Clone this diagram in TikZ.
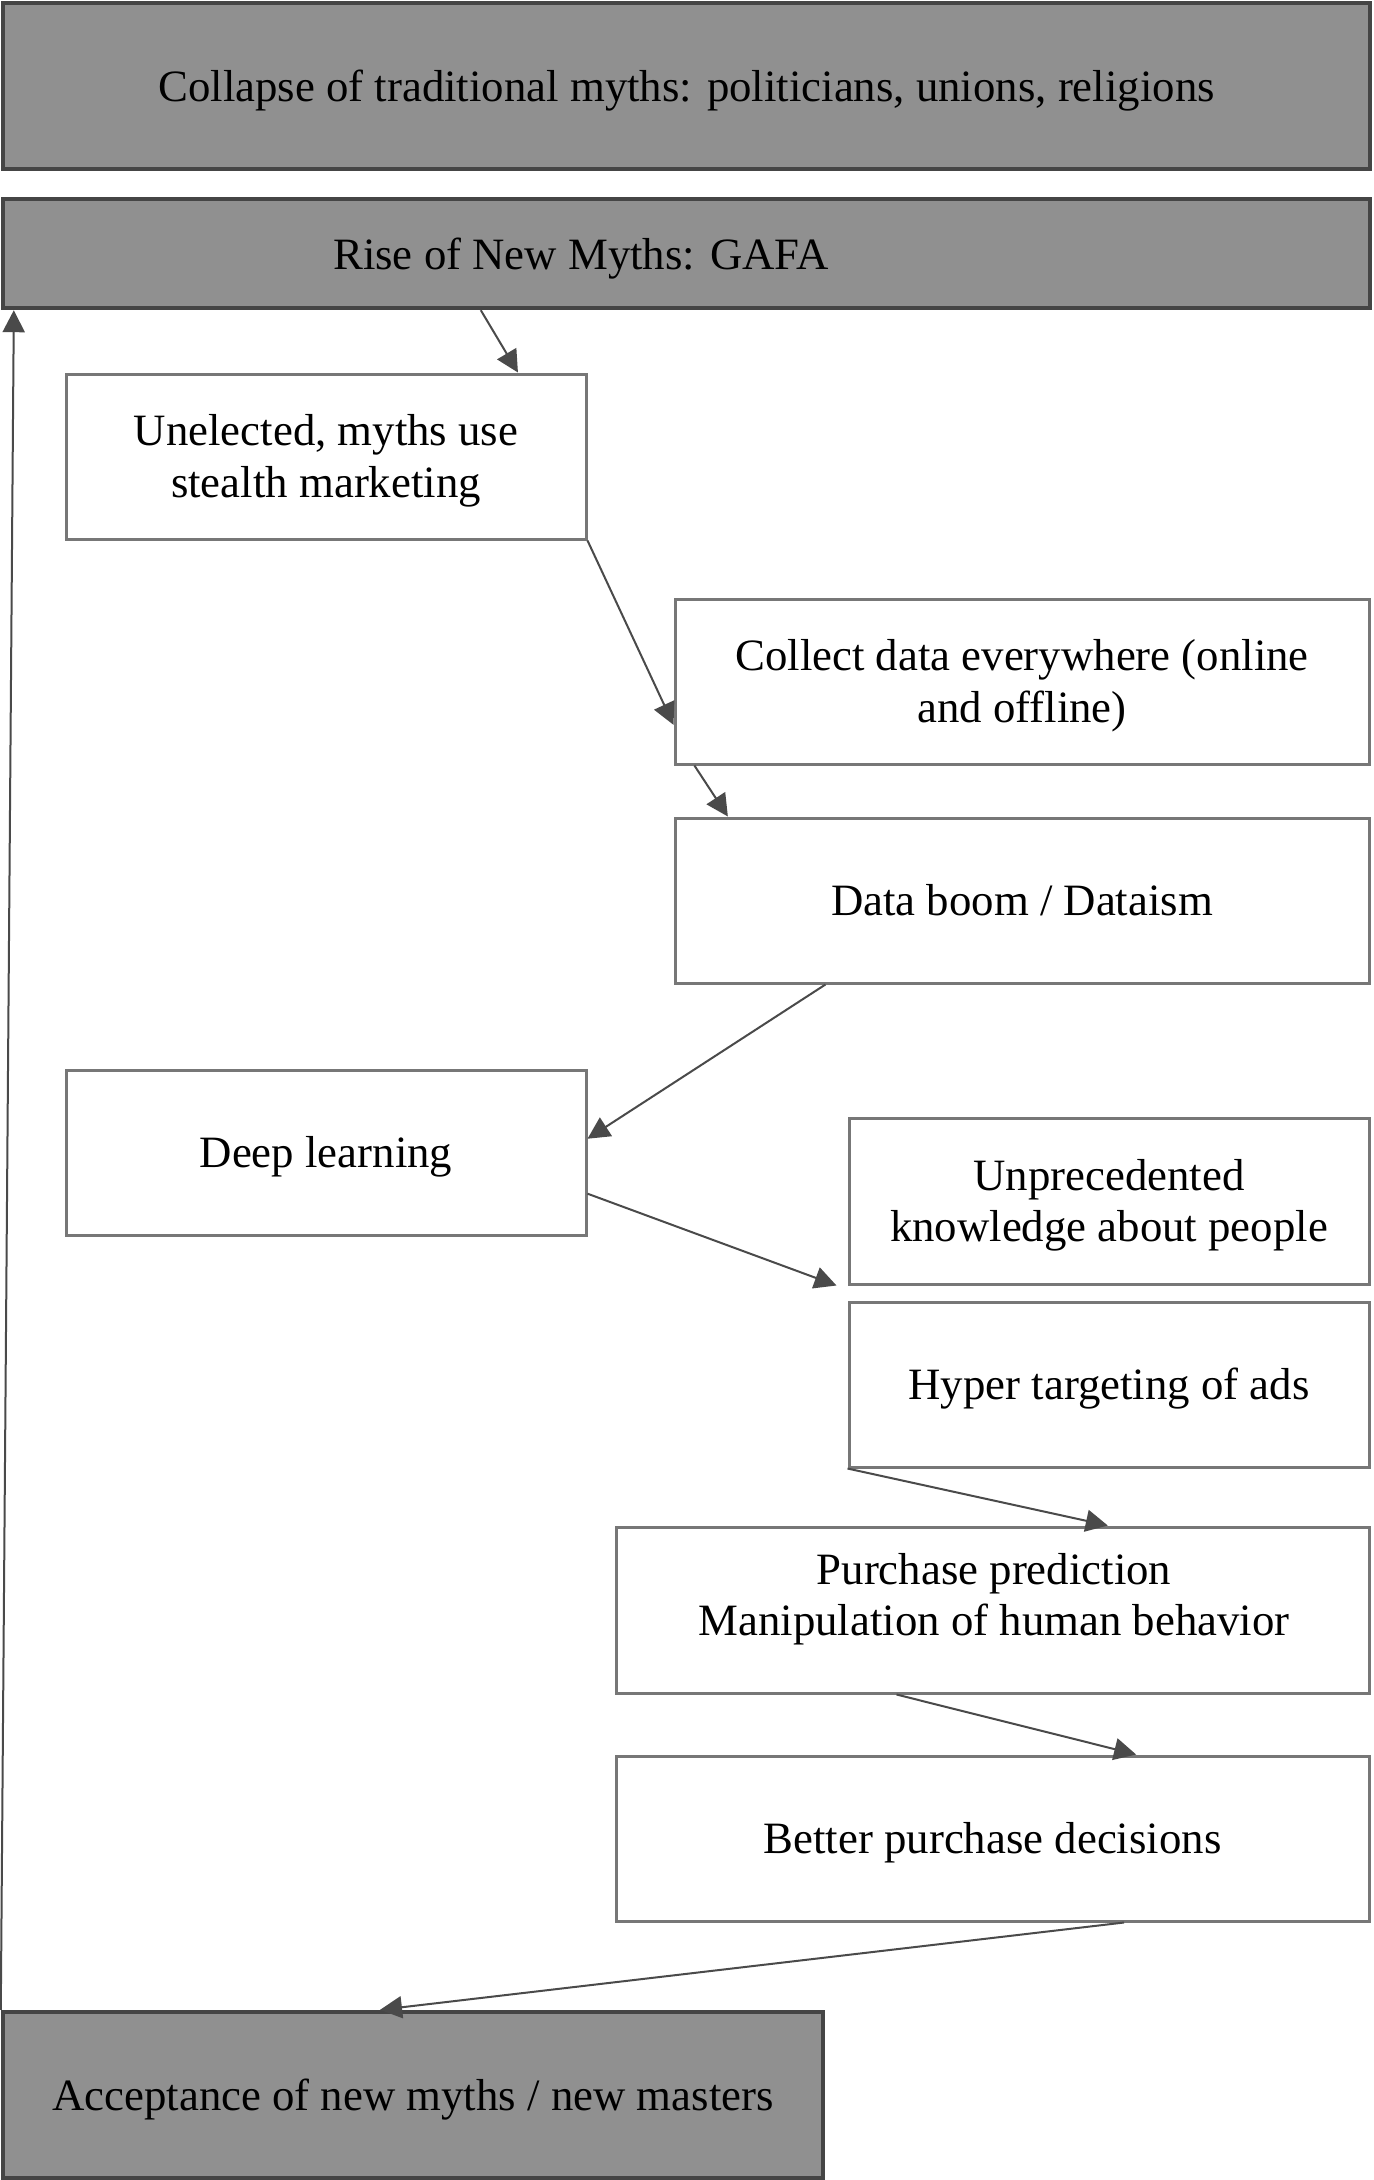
\documentclass[tikz,border=0pt]{standalone}
\usepackage{fontspec}
\setmainfont{Liberation Serif}
\usetikzlibrary{calc,arrows.meta}
\definecolor{boxline}{HTML}{777777}
\definecolor{darkline}{HTML}{454545}
\definecolor{boxfill}{HTML}{909090}
\definecolor{arrowc}{HTML}{4A4A4A}
\newcommand\mystrut{\rule[-0.216em]{0pt}{1.107em}}
\tikzset{
  whitebox/.style={draw=boxline, line width=1.5pt, fill=white, inner sep=0pt, align=center, font=\fontsize{22.4}{25.7}\selectfont},
  greybox/.style={draw=darkline, line width=2.2pt, fill=boxfill, inner sep=0pt, align=center, font=\fontsize{22.4}{25.7}\selectfont},
  txt/.style={inner sep=0pt, align=center, font=\fontsize{22.4}{25.7}\selectfont},
  conn/.style={draw=arrowc, line width=1pt, -{Triangle[length=11pt,width=11pt]}}
}
\begin{document}
\begin{tikzpicture}[x=0.5pt,y=-0.5pt]
\useasboundingbox (0,0) rectangle (1373,2180);
\node[greybox, minimum width=683.5pt, minimum height=83pt] (top) at (686.5,86) {\mystrut Collapse of traditional myths: politicians, unions, religions};
\node[greybox, minimum width=683.5pt, minimum height=54.5pt] (rise) at (686.5,253.5) {};
\node[txt] (risetext) at (581,254) {\mystrut Rise of New Myths: GAFA};
\node[whitebox, minimum width=260pt, minimum height=82.5pt] (un) at (326,456.5) {\mystrut Unelected, myths use\\\mystrut stealth marketing};
\node[whitebox, minimum width=347pt, minimum height=82.5pt] (col) at (1022,681.5) {\mystrut Collect data everywhere (online\\\mystrut and offline)};
\node[whitebox, minimum width=347pt, minimum height=82.5pt] (db) at (1022,900.5) {\mystrut Data boom / Dataism};
\node[whitebox, minimum width=260pt, minimum height=82.5pt] (dl) at (326,1152.5) {\mystrut Deep learning};
\node[whitebox, minimum width=260pt, minimum height=83pt] (unp) at (1109,1201) {\mystrut Unprecedented\\\mystrut knowledge about people};
\node[whitebox, minimum width=260pt, minimum height=82.5pt] (hyp) at (1109,1384.5) {\mystrut Hyper targeting of ads};
\node[whitebox, minimum width=376.5pt, minimum height=83pt] (pur) at (992.5,1610) {};
\node[txt] (purtext) at (994,1595) {\mystrut Purchase prediction\\\mystrut Manipulation of human behavior};
\node[whitebox, minimum width=376.5pt, minimum height=82.5pt] (bet) at (992.5,1838.5) {\mystrut Better purchase decisions};
\node[greybox, minimum width=410pt, minimum height=83pt] (acc) at (413,2095) {\mystrut Acceptance of new myths / new masters};

\draw[conn] ($(rise.south west)!0.350!(rise.south east)$) -- ($(un.north west)!0.867!(un.north east)$);
\draw[conn] (un.south east) -- ($(col.north west)!0.758!(col.south west)$);
\draw[conn] ($(col.south west)!0.030!(col.south east)$) -- ($(db.north west)!0.078!(db.north east)$);
\draw[conn] ($(db.south west)!0.218!(db.south east)$) -- ($(dl.north east)!0.418!(dl.south east)$);
\draw[conn] ($(dl.north east)!0.745!(dl.south east)$) -- ($(unp.south west)+(-11,0)$);
\draw[conn] (hyp.south west) -- ($(pur.north west)!0.6525!(pur.north east)$);
\draw[conn] ($(pur.south west)!0.373!(pur.south east)$) -- ($(bet.north west)!0.690!(bet.north east)$);
\draw[conn] ($(bet.south west)!0.674!(bet.south east)$) -- ($(acc.north west)!0.46!(acc.north east)$);
\draw[conn] (acc.north west) -- ($(rise.south west)!0.0095!(rise.south east)$);
\end{tikzpicture}
\end{document}
